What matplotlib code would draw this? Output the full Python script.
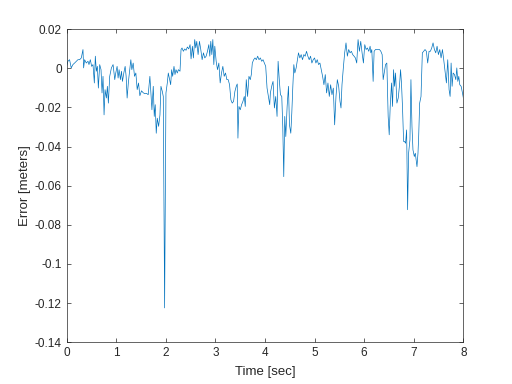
import matplotlib
matplotlib.use('Agg')
import matplotlib.pyplot as plt

# time [sec] and error [meters]
time_s = [
    0.000, 0.027, 0.061, 0.094, 0.128, 0.162, 0.196, 0.229, 0.263, 0.297,
    0.331, 0.344, 0.364, 0.398, 0.432, 0.452, 0.479, 0.506, 0.533, 0.560,
    0.580, 0.601, 0.621, 0.641, 0.668, 0.695, 0.715, 0.735, 0.756, 0.776,
    0.803, 0.823, 0.843, 0.870, 0.904, 0.938, 0.972, 0.992, 1.019, 1.039,
    1.059, 1.086, 1.107, 1.127, 1.154, 1.181, 1.201, 1.221, 1.248, 1.275,
    1.296, 1.316, 1.343, 1.370, 1.397, 1.424, 1.451, 1.478, 1.511, 1.545,
    1.579, 1.613, 1.646, 1.680, 1.700, 1.721, 1.748, 1.768, 1.788, 1.808,
    1.829, 1.856, 1.883, 1.903, 1.930, 1.950, 1.977, 2.004, 2.031, 2.051,
    2.072, 2.099, 2.119, 2.139, 2.166, 2.186, 2.206, 2.233, 2.254, 2.287,
    2.308, 2.328, 2.355, 2.382, 2.409, 2.436, 2.463, 2.490, 2.510, 2.537,
    2.557, 2.584, 2.605, 2.625, 2.652, 2.679, 2.706, 2.733, 2.760, 2.787,
    2.814, 2.841, 2.868, 2.888, 2.908, 2.929, 2.949, 2.969, 2.989, 3.016,
    3.043, 3.070, 3.097, 3.124, 3.151, 3.178, 3.205, 3.232, 3.259, 3.286,
    3.313, 3.340, 3.367, 3.394, 3.421, 3.441, 3.455, 3.475, 3.502, 3.529,
    3.556, 3.583, 3.603, 3.623, 3.650, 3.677, 3.704, 3.725, 3.745, 3.772,
    3.799, 3.826, 3.853, 3.880, 3.907, 3.934, 3.961, 3.988, 4.015, 4.042,
    4.069, 4.096, 4.109, 4.143, 4.163, 4.190, 4.217, 4.244, 4.265, 4.291,
    4.312, 4.339, 4.359, 4.379, 4.399, 4.420, 4.447, 4.474, 4.494, 4.521,
    4.541, 4.562, 4.582, 4.602, 4.629, 4.649, 4.676, 4.703, 4.730, 4.757,
    4.784, 4.811, 4.838, 4.865, 4.892, 4.919, 4.946, 4.973, 5.000, 5.027,
    5.054, 5.081, 5.108, 5.135, 5.162, 5.189, 5.216, 5.243, 5.270, 5.297,
    5.324, 5.351, 5.378, 5.405, 5.432, 5.459, 5.486, 5.513, 5.533, 5.553,
    5.580, 5.607, 5.634, 5.661, 5.688, 5.715, 5.742, 5.769, 5.796, 5.823,
    5.850, 5.877, 5.904, 5.931, 5.958, 5.985, 6.012, 6.039, 6.066, 6.093,
    6.120, 6.134, 6.154, 6.181, 6.201, 6.228, 6.255, 6.282, 6.309, 6.336,
    6.363, 6.383, 6.404, 6.431, 6.457, 6.484, 6.505, 6.525, 6.552, 6.572,
    6.593, 6.613, 6.633, 6.660, 6.687, 6.714, 6.734, 6.754, 6.775, 6.795,
    6.815, 6.835, 6.856, 6.876, 6.896, 6.923, 6.943, 6.964, 6.984, 7.011,
    7.031, 7.065, 7.085, 7.099, 7.119, 7.146, 7.173, 7.200, 7.227, 7.254,
    7.281, 7.308, 7.335, 7.362, 7.389, 7.416, 7.443, 7.470, 7.497, 7.524,
    7.551, 7.578, 7.604, 7.631, 7.658, 7.685, 7.712, 7.733, 7.753, 7.773,
    7.794, 7.821, 7.848, 7.868, 7.888, 7.908, 7.928, 7.955, 7.982, 8.000,
]

error_m = [
    0.0010, 0.0036, 0.0044, 0.0002, 0.0019, 0.0027, 0.0036, 0.0044, 0.0044, 0.0053,
    0.0096, 0.0002, 0.0044, 0.0027, 0.0036, 0.0019, 0.0044, 0.0010, 0.0019, -0.0075,
    0.0062, -0.0015, 0.0010, -0.0101, 0.0019, -0.0007, -0.0126, -0.0041, -0.0238, -0.0109,
    -0.0152, -0.0092, -0.0178, -0.0041, 0.0002, 0.0019, -0.0058, -0.0024, 0.0010, -0.0050,
    -0.0007, -0.0058, -0.0015, -0.0067, -0.0024, 0.0010, -0.0041, -0.0152, -0.0067, -0.0007,
    0.0044, -0.0007, 0.0027, -0.0041, -0.0024, -0.0109, -0.0075, -0.0140, -0.0115, -0.0125,
    -0.0130, -0.0128, -0.0135, -0.0041, -0.0126, -0.0212, -0.0092, -0.0246, -0.0186, -0.0332,
    -0.0255, -0.0297, -0.0238, -0.0092, -0.0118, -0.0144, -0.1225, -0.0126, -0.0075, -0.0024,
    -0.0050, -0.0084, -0.0007, -0.0041, 0.0010, -0.0032, -0.0007, -0.0024, -0.0007, -0.0015,
    0.0096, 0.0104, 0.0087, 0.0099, 0.0092, 0.0109, 0.0099, 0.0121, 0.0048, 0.0113,
    0.0053, 0.0147, 0.0104, 0.0138, 0.0070, 0.0138, 0.0096, 0.0044, 0.0079, 0.0053,
    0.0062, 0.0087, 0.0121, 0.0062, 0.0138, 0.0070, 0.0147, 0.0019, 0.0113, 0.0036,
    -0.0007, 0.0027, -0.0075, -0.0024, 0.0010, -0.0041, -0.0024, -0.0058, -0.0058, -0.0084,
    -0.0161, -0.0178, -0.0169, -0.0118, -0.0092, -0.0080, -0.0357, -0.0195, -0.0212, -0.0186,
    -0.0169, -0.0144, -0.0195, -0.0058, -0.0144, -0.0041, -0.0058, -0.0032, 0.0027, 0.0044,
    0.0053, 0.0044, 0.0062, 0.0044, 0.0053, 0.0036, 0.0044, 0.0027, 0.0010, -0.0101,
    -0.0144, -0.0186, -0.0126, -0.0084, -0.0067, -0.0203, -0.0144, -0.0246, 0.0036, -0.0067,
    -0.0135, -0.0144, -0.0297, -0.0554, -0.0246, -0.0349, -0.0195, -0.0092, -0.0289, -0.0332,
    -0.0229, -0.0092, 0.0019, -0.0024, 0.0002, 0.0036, 0.0079, 0.0053, 0.0070, 0.0044,
    0.0070, 0.0062, 0.0087, 0.0062, 0.0044, 0.0062, 0.0027, 0.0044, 0.0053, 0.0027,
    0.0044, 0.0019, 0.0027, -0.0007, -0.0041, -0.0084, -0.0032, -0.0126, -0.0075, -0.0144,
    -0.0084, -0.0135, -0.0101, -0.0289, -0.0144, -0.0058, -0.0092, -0.0169, -0.0203, -0.0084,
    0.0002, 0.0079, 0.0130, 0.0062, 0.0096, 0.0079, 0.0087, 0.0070, 0.0062, 0.0053,
    0.0027, 0.0147, 0.0087, 0.0138, 0.0079, 0.0027, 0.0121, 0.0096, 0.0104, 0.0087,
    0.0113, 0.0079, 0.0096, -0.0067, 0.0087, 0.0096, 0.0096, 0.0096, 0.0096, 0.0087,
    0.0070, -0.0058, -0.0024, 0.0019, 0.0027, -0.0246, -0.0340, -0.0195, -0.0075, -0.0195,
    -0.0007, -0.0092, -0.0024, -0.0178, -0.0152, -0.0084, -0.0007, -0.0084, -0.0212, -0.0374,
    -0.0374, -0.0383, -0.0315, -0.0723, -0.0434, -0.0366, -0.0058, -0.0297, -0.0417, -0.0451,
    -0.0434, -0.0503, -0.0434, -0.0349, -0.0178, -0.0144, 0.0079, 0.0087, 0.0096, 0.0087,
    0.0027, 0.0087, 0.0087, 0.0104, 0.0130, 0.0096, 0.0079, 0.0113, 0.0070, 0.0096,
    0.0053, 0.0096, 0.0044, -0.0015, -0.0075, 0.0044, -0.0109, -0.0144, 0.0027, -0.0092,
    -0.0024, -0.0032, -0.0058, 0.0002, -0.0067, -0.0041, -0.0084, -0.0092, -0.0126, -0.0152,
]

x_ticks = [0, 1, 2, 3, 4, 5, 6, 7, 8]
y_ticks = [-0.14, -0.12, -0.1, -0.08, -0.06, -0.04, -0.02, 0, 0.02]
y_tick_labels = ['-0.14', '-0.12', '-0.1', '-0.08', '-0.06', '-0.04', '-0.02', '0', '0.02']

plt.rcParams['font.family'] = ['Liberation Sans', 'DejaVu Sans']

fig = plt.figure(figsize=(5.12, 3.84), dpi=100)
ax = fig.add_axes([0.13, 0.109, 0.775, 0.815])

ax.plot(time_s, error_m, color='#0072BD', linewidth=0.5)

ax.set_xlim(0, 8)
ax.set_ylim(-0.14, 0.02)
ax.set_xticks(x_ticks)
ax.set_yticks(y_ticks)
ax.set_yticklabels(y_tick_labels)
ax.set_xlabel('Time [sec]', fontsize=9.5, color='#262626', labelpad=5)
ax.set_ylabel('Error [meters]', fontsize=9.5, color='#262626', labelpad=3)

ax.tick_params(direction='in', length=3, width=0.5, colors='#262626',
               labelsize=8.5, top=True, right=True, pad=3.5)
for s in ax.spines.values():
    s.set_color('#262626')
    s.set_linewidth(0.5)

fig.savefig('out.png', dpi=100, facecolor='white')
